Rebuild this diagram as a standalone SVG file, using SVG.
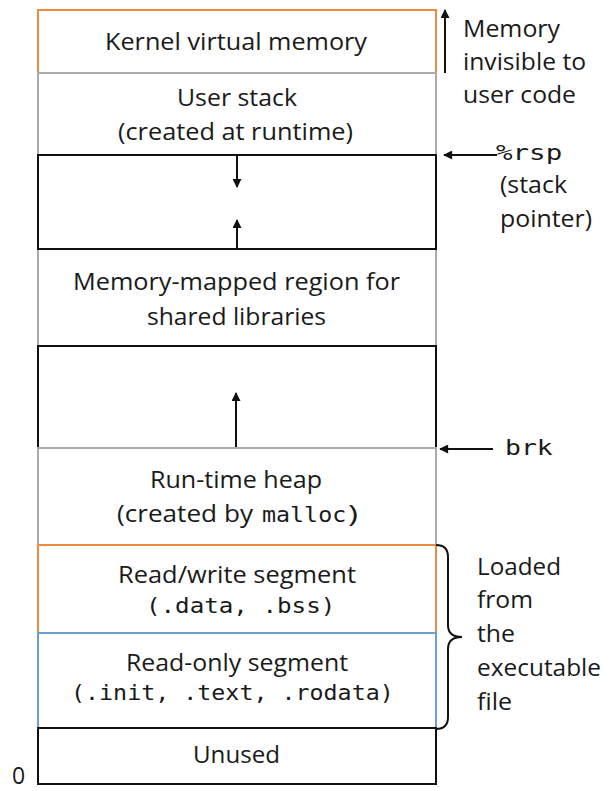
<svg xmlns="http://www.w3.org/2000/svg" width="612" height="791" viewBox="0 0 612 791">
  <style>
    .bg { fill: #ffffff; }
    .seg { fill: #ffffff; stroke-width: 2; }
    .gray { stroke: #ababab; }
    .black { stroke: #111111; }
    .orange { stroke: #ed8b3f; }
    .blue { stroke: #6a9fd3; }
    .sans { font-family: "Open Sans", "Noto Sans", "Liberation Sans", sans-serif; font-size: 23px; fill: #1a1a1a; }
    .mono { font-family: "DejaVu Sans Mono", "Liberation Mono", monospace; font-size: 22px; fill: #1a1a1a; }
    .conn { fill: none; stroke: #111111; stroke-width: 2; }
  </style>
  <defs>
    <marker id="arrow" viewBox="0 0 10 10" refX="9" refY="5" markerUnits="userSpaceOnUse" markerWidth="10" markerHeight="9" orient="auto">
      <path d="M0,0 L10,5 L0,10 z" fill="#111111"/>
    </marker>
  </defs>

  <rect class="bg" x="0" y="0" width="612" height="791"/>

  <!-- address-space segments, drawn top to bottom so shared edges take the lower segment's colour -->
  <g id="kernel">
    <rect class="seg orange" x="38" y="10" width="398" height="63"/>
    <text class="sans" x="105" y="50" textLength="262" lengthAdjust="spacingAndGlyphs">Kernel virtual memory</text>
  </g>
  <g id="user-stack">
    <rect class="seg gray" x="38" y="73" width="398" height="82"/>
    <text class="sans" x="177" y="106" textLength="120" lengthAdjust="spacingAndGlyphs">User stack</text>
    <text class="sans" x="118" y="140" textLength="235" lengthAdjust="spacingAndGlyphs">(created at runtime)</text>
  </g>
  <g id="mmap">
    <rect class="seg gray" x="38" y="249" width="398" height="97"/>
    <text class="sans" x="73" y="290" textLength="327" lengthAdjust="spacingAndGlyphs">Memory-mapped region for</text>
    <text class="sans" x="147" y="325" textLength="179" lengthAdjust="spacingAndGlyphs">shared libraries</text>
  </g>
  <g id="stack-gap">
    <rect class="seg black" x="38" y="155" width="398" height="94"/>
  </g>
  <g id="heap-gap">
    <rect class="seg black" x="38" y="346" width="398" height="102"/>
  </g>
  <g id="heap">
    <rect class="seg gray" x="38" y="448" width="398" height="97"/>
    <text class="sans" x="150" y="488" textLength="172" lengthAdjust="spacingAndGlyphs">Run-time heap</text>
    <text class="sans" x="117" y="522" textLength="136" lengthAdjust="spacingAndGlyphs">(created by</text>
    <text class="mono" transform="translate(262,522) scale(1.06,1)">malloc</text>
    <text class="sans" x="348" y="522" textLength="10" lengthAdjust="spacingAndGlyphs">)</text>
  </g>
  <g id="rw-segment">
    <rect class="seg orange" x="38" y="545" width="398" height="88"/>
    <text class="sans" x="118" y="583" textLength="238" lengthAdjust="spacingAndGlyphs">Read/write segment</text>
    <text class="mono" transform="translate(146,613) scale(1.1,1)">(.data, .bss)</text>
  </g>
  <g id="ro-segment">
    <rect class="seg blue" x="38" y="633" width="398" height="95"/>
    <text class="sans" x="126" y="671" textLength="222" lengthAdjust="spacingAndGlyphs">Read-only segment</text>
    <text class="mono" transform="translate(71,700) scale(1.06,1)">(.init, .text, .rodata)</text>
  </g>
  <g id="unused">
    <rect class="seg black" x="38" y="728" width="398" height="56"/>
    <text class="sans" x="193" y="763" textLength="87" lengthAdjust="spacingAndGlyphs">Unused</text>
  </g>

  <!-- side labels -->
  <g id="zero-label">
    <text class="sans" x="12" y="784">0</text>
  </g>
  <g id="invisible-label">
    <text class="sans" x="463" y="37" textLength="97" lengthAdjust="spacingAndGlyphs">Memory</text>
    <text class="sans" x="463" y="70" textLength="123" lengthAdjust="spacingAndGlyphs">invisible to</text>
    <text class="sans" x="463" y="103" textLength="113" lengthAdjust="spacingAndGlyphs">user code</text>
  </g>
  <g id="rsp-label">
    <text class="mono" transform="translate(496,160) scale(1.25,1)">%rsp</text>
    <text class="sans" x="500" y="193" textLength="67" lengthAdjust="spacingAndGlyphs">(stack</text>
    <text class="sans" x="500" y="227" textLength="92" lengthAdjust="spacingAndGlyphs">pointer)</text>
  </g>
  <g id="brk-label">
    <text class="mono" transform="translate(505,455) scale(1.2,1)">brk</text>
  </g>
  <g id="loaded-label">
    <text class="sans" x="477" y="575" textLength="84" lengthAdjust="spacingAndGlyphs">Loaded</text>
    <text class="sans" x="477" y="608" textLength="56" lengthAdjust="spacingAndGlyphs">from</text>
    <text class="sans" x="477" y="642" textLength="38" lengthAdjust="spacingAndGlyphs">the</text>
    <text class="sans" x="477" y="676" textLength="124" lengthAdjust="spacingAndGlyphs">executable</text>
    <text class="sans" x="477" y="710" textLength="35" lengthAdjust="spacingAndGlyphs">file</text>
  </g>

  <!-- arrows and the brace -->
  <g id="connectors">
    <path class="conn" d="M445,73 L445,10" marker-end="url(#arrow)"/>
    <path class="conn" d="M497,155 L444,155" marker-end="url(#arrow)"/>
    <path class="conn" d="M493,449 L440,449" marker-end="url(#arrow)"/>
    <path class="conn" d="M237,156 L237,187" marker-end="url(#arrow)"/>
    <path class="conn" d="M237,248 L237,220" marker-end="url(#arrow)"/>
    <path class="conn" d="M236,447 L236,393" marker-end="url(#arrow)"/>
    <path class="conn" d="M436,545 C444,545 448,549 448,557 L448,625 C448,633 452,637 462,637 C452,637 448,641 448,649 L448,717 C448,725 444,729 436,729"/>
  </g>
</svg>
